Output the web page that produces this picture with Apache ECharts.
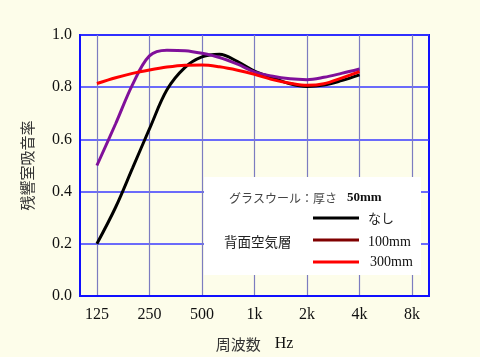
<!DOCTYPE html>
<html>
<head>
<meta charset="utf-8">
<script src="https://cdn.jsdelivr.net/npm/echarts@6/dist/echarts.min.js"></script>
<style>
html,body{margin:0;padding:0;background:#fdfdea;}
#chart{width:480px;height:357px;}
</style>
</head>
<body>
<div id="chart"></div>
<script>
// 1/3-octave band centre frequencies (Hz)
const freqs = [125, 160, 200, 250, 315, 400, 500, 630, 800, 1000, 1250, 1600, 2000, 2500, 3150, 4000];
// Glass wool 50mm, no air layer
const noneVals = [0.20, 0.34, 0.49, 0.64, 0.79, 0.876, 0.916, 0.926, 0.898, 0.862, 0.838, 0.813, 0.803, 0.808, 0.825, 0.847];
// 100mm air layer
const air100Vals = [0.50, 0.66, 0.81, 0.92, 0.942, 0.94, 0.93, 0.914, 0.888, 0.859, 0.843, 0.832, 0.829, 0.838, 0.853, 0.870];
// 300mm air layer
const air300Vals = [0.814, 0.836, 0.853, 0.866, 0.877, 0.884, 0.885, 0.878, 0.865, 0.849, 0.830, 0.815, 0.807, 0.813, 0.835, 0.860];
// x-axis ticks
const tickFreqs = [125, 250, 500, 1000, 2000, 4000, 8000];
const tickLabels = ['125', '250', '500', '1k', '2k', '4k', '8k'];
const freqMin = 100, freqMax = 10000, refFreq = 125;
// y-axis
const yMin = 0, yMax = 1, yStep = 0.2;

const oct = f => Math.log2(f / refFreq);
const pairs = vals => freqs.map((f, i) => [oct(f), vals[i]]);
const tickPos = tickFreqs.map(oct);

const serif = '"Liberation Serif", "Noto Sans CJK JP", serif';
const jp = '"Noto Sans CJK JP", sans-serif';

const chart = echarts.init(document.getElementById('chart'), null, {renderer: 'canvas'});
chart.setOption({
  backgroundColor: '#fdfdea',
  animation: false,
  grid: {left: 80, right: 51, top: 35, bottom: 59, show: true, borderColor: '#1010ff', borderWidth: 2, backgroundColor: '#fdfdea'},
  xAxis: {
    type: 'value', min: oct(freqMin), max: oct(freqMax),
    axisLine: {show: true, onZero: false, lineStyle: {color: '#1010ff', width: 2}},
    axisTick: {show: false, customValues: tickPos},
    axisLabel: {customValues: tickPos, margin: 11, color: '#111', fontFamily: serif, fontSize: 16,
      formatter: v => tickLabels[Math.round(v)]},
    splitLine: {show: true, lineStyle: {color: '#7c7cc0', width: 1.2}},
    name: '{jp|周波数}{hz|Hz}', nameLocation: 'middle', nameGap: 40,
    nameTextStyle: {
      rich: {
        jp: {fontFamily: jp, fontSize: 15, color: '#333', padding: [0, 14, 0, 0]},
        hz: {fontFamily: serif, fontSize: 16, color: '#111'}
      }
    }
  },
  yAxis: {
    type: 'value', min: yMin, max: yMax, interval: yStep,
    axisLine: {show: true, onZero: false, lineStyle: {color: '#1010ff', width: 2}},
    axisTick: {show: false},
    axisLabel: {margin: 8, color: '#111', fontFamily: serif, fontSize: 16, formatter: v => v.toFixed(1)},
    splitLine: {show: true, lineStyle: {color: '#3a3aff', width: 1.5}},
    name: '残響室吸音率', nameLocation: 'middle', nameRotate: 90, nameGap: 45,
    nameTextStyle: {fontFamily: jp, fontSize: 15, color: '#333'}
  },
  series: [
    {type: 'line', name: 'なし', data: pairs(noneVals), smooth: 0.35, symbol: 'none', lineStyle: {color: '#000000', width: 3}},
    {type: 'line', name: '100mm', data: pairs(air100Vals), smooth: 0.35, symbol: 'none', lineStyle: {color: '#80109a', width: 3}},
    {type: 'line', name: '300mm', data: pairs(air300Vals), smooth: 0.35, symbol: 'none', lineStyle: {color: '#ff0000', width: 3}}
  ],
  graphic: [
    {type: 'rect', shape: {x: 204, y: 177, width: 217, height: 98}, style: {fill: '#ffffff'}, z: 50},
    {type: 'text', z: 51, style: {text: 'グラスウール：厚さ', x: 229, y: 198, font: '12px ' + jp, fill: '#444', verticalAlign: 'middle'}},
    {type: 'text', z: 51, style: {text: '50mm', x: 347, y: 198, font: 'bold 13px ' + serif, fill: '#111', verticalAlign: 'middle'}},
    {type: 'line', z: 51, shape: {x1: 313, y1: 218, x2: 359, y2: 218}, style: {stroke: '#000000', lineWidth: 3}},
    {type: 'text', z: 51, style: {text: 'なし', x: 368, y: 218, font: '13px ' + jp, fill: '#222', verticalAlign: 'middle'}},
    {type: 'text', z: 51, style: {text: '背面空気層', x: 224, y: 242, font: '13.5px ' + jp, fill: '#222', verticalAlign: 'middle'}},
    {type: 'line', z: 51, shape: {x1: 313, y1: 240, x2: 359, y2: 240}, style: {stroke: '#800000', lineWidth: 3}},
    {type: 'text', z: 51, style: {text: '100mm', x: 368, y: 242, font: '14px ' + serif, fill: '#111', verticalAlign: 'middle'}},
    {type: 'line', z: 51, shape: {x1: 313, y1: 262, x2: 359, y2: 262}, style: {stroke: '#ff0000', lineWidth: 3}},
    {type: 'text', z: 51, style: {text: '300mm', x: 370, y: 262, font: '14px ' + serif, fill: '#111', verticalAlign: 'middle'}}
  ]
});
</script>
</body>
</html>
